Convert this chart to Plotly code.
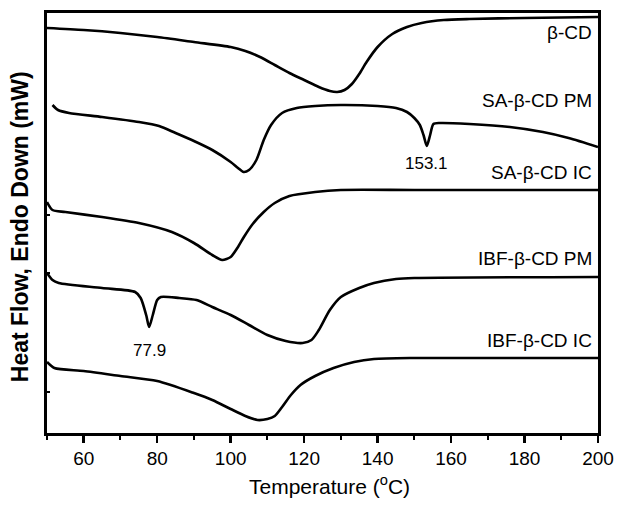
import plotly.graph_objects as go

# ---- data (temperature in °C, heat flow in arbitrary units, offset curves) ----
t_bcd = [50, 60, 70, 80, 90, 100, 104, 108, 112, 116, 120, 124, 127, 129, 131, 133, 135, 137, 140, 144, 148, 152, 158, 165, 180, 200]
hf_bcd = [405, 403, 400, 396, 391, 386, 382, 376, 368, 360, 353, 346, 342, 341, 343, 349, 359, 371, 386, 399, 406, 410, 413, 414, 415, 416]

t_sa_pm = [51.5, 53, 56, 65, 75, 80.5, 85, 90, 95, 100, 102, 103.5, 105, 107, 109, 111, 114, 118, 123, 130, 140, 145, 148, 150, 151.5, 152.5, 153.4, 154.3, 155.2, 157, 165, 176, 185, 192, 200]
hf_sa_pm = [328, 323, 320, 316, 311, 307, 300, 292, 283, 271, 265, 261, 263, 273, 293, 308, 320, 325, 327, 328, 327, 325, 321, 315, 308, 298, 287, 298, 309, 310, 309, 306, 301, 295, 286]

t_sa_ic = [50, 51.5, 55, 65, 75, 84, 90, 95, 97.7, 100, 102, 103.6, 106, 109, 112, 116, 123, 130, 150, 200]
hf_sa_ic = [231, 223, 221, 216, 210, 201, 190, 178, 173, 176, 186, 196, 209, 221, 230, 237, 241, 243, 243, 243]

t_ibf_pm = [50, 51.5, 53.2, 65, 74, 75.5, 77, 77.8, 78.8, 80, 81, 86, 90.7, 95, 100, 105, 110, 115, 119.6, 122, 124, 127, 130, 135, 139, 145, 150, 200]
hf_ibf_pm = [160, 153, 150, 145, 141, 135, 118, 106, 118, 133, 136, 135, 133, 126, 118, 108, 98, 92, 90, 93, 103, 123, 136, 145, 150, 154, 155, 156]

t_ibf_ic = [50, 52, 60, 70, 80, 90, 95, 100, 104, 107.3, 110, 112, 114, 116.4, 119, 123, 128, 133.6, 139, 150, 200]
hf_ibf_ic = [71, 65, 62, 57, 52, 40, 33, 24, 17, 13, 14, 17, 26, 38, 48, 57, 65, 71, 74, 75, 75]

curve_names = ["β-CD", "SA-β-CD PM", "SA-β-CD IC", "IBF-β-CD PM", "IBF-β-CD IC"]
label_hf = [401, 333, 261, 175, 93]

peak_labels = ["153.1", "77.9"]
peak_t = [153.4, 77.9]
peak_hf = [270, 83]

x_ticks = [60, 80, 100, 120, 140, 160, 180, 200]

FONT = "Arial, Liberation Sans, sans-serif"

fig = go.Figure()
series = [(t_bcd, hf_bcd), (t_sa_pm, hf_sa_pm), (t_sa_ic, hf_sa_ic), (t_ibf_pm, hf_ibf_pm), (t_ibf_ic, hf_ibf_ic)]
for name, (t, hf) in zip(curve_names, series):
    fig.add_trace(go.Scatter(x=t, y=hf, mode="lines", name=name,
                             line=dict(color="black", width=2.6, shape="spline", smoothing=0.7),
                             showlegend=False, hoverinfo="skip"))

for name, yv in zip(curve_names, label_hf):
    fig.add_annotation(x=199, y=yv, text=name, showarrow=False, xanchor="right", yanchor="middle",
                       font=dict(family=FONT, size=19, color="black"))

for txt, tx, yv in zip(peak_labels, peak_t, peak_hf):
    fig.add_annotation(x=tx, y=yv, text=txt, showarrow=False, xanchor="center", yanchor="middle",
                       font=dict(family=FONT, size=17, color="black"))

fig.add_annotation(xref="paper", yref="paper", x=0.512, y=-0.124, text="Temperature (<sup>o</sup>C)",
                   showarrow=False, xanchor="center", yanchor="middle",
                   font=dict(family=FONT, size=21, color="black"))
fig.add_annotation(xref="paper", yref="paper", x=-0.049, y=0.49, text="<b>Heat Flow, Endo Down (mW)</b>",
                   textangle=-90, showarrow=False, xanchor="center", yanchor="middle",
                   font=dict(family=FONT, size=23, color="black"))

fig.update_xaxes(range=[50, 200], tickvals=x_ticks, ticks="outside", ticklen=7, tickwidth=2.5,
                 tickcolor="black", showline=True, linewidth=2.6, linecolor="black", mirror=True,
                 showgrid=False, zeroline=False, automargin=False,
                 tickfont=dict(family=FONT, size=19, color="black"),
                 minor=dict(dtick=10, ticks="outside", ticklen=4, tickwidth=2, tickcolor="black", showgrid=False))
fig.update_yaxes(range=[0, 420], tickvals=[41, 160, 218], ticks="inside", ticklen=3, tickwidth=1.5,
                 tickcolor="black", showticklabels=False, showline=True, linewidth=2.6, linecolor="black",
                 mirror=True, showgrid=False, zeroline=False, automargin=False)

fig.update_layout(width=618, height=507, margin=dict(l=47, r=20, t=13, b=74),
                  plot_bgcolor="white", paper_bgcolor="white", font=dict(family=FONT, color="black"))

# remove the default page margin so the 618x507 figure fills the window exactly
fig.write_html("out.html", config={"displayModeBar": False, "staticPlot": True},
               post_script="document.body.style.margin='0';document.body.style.overflow='hidden';"
                           "document.documentElement.style.overflow='hidden';")
